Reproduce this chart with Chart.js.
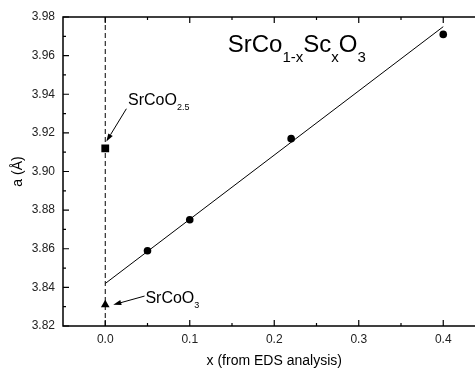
<!DOCTYPE html>
<html>
<head>
<meta charset="utf-8">
<script src="https://cdn.jsdelivr.net/npm/chart.js@4/dist/chart.umd.min.js"></script>
<style>
  html, body { margin: 0; padding: 0; background: #fff; overflow: hidden; }
</style>
</head>
<body>
<canvas id="latticeChart" width="491" height="371"></canvas>
<script>
// measured lattice parameter a vs Sc content x
const scX = [0.05, 0.1, 0.22, 0.4];
const scA = [3.859, 3.875, 3.917, 3.971];
// linear fit
const fitX = [0, 0.4];
const fitA = [3.842, 3.975];
// reference compounds at x = 0
const srCoO25 = [3.912];
const srCoO3 = [3.831];
// axis ticks
const xTicks = [0, 0.1, 0.2, 0.3, 0.4];
const yTicks = [3.82, 3.84, 3.86, 3.88, 3.90, 3.92, 3.94, 3.96, 3.98];

const FONT = '"Liberation Sans", Arial, Helvetica, sans-serif';

// draw a string made of normal + subscript pieces, return end x
function richText(c, parts, x, y) {
    parts.forEach(p => {
        c.font = p.size + 'px ' + FONT;
        c.fillText(p.t, x, y + (p.dy || 0));
        x += c.measureText(p.t).width;
    });
    return x;
}

function arrow(c, x1, y1, x2, y2) {
    const ang = Math.atan2(y2 - y1, x2 - x1);
    const len = 8, w = 2.6;
    c.beginPath();
    c.moveTo(x1, y1);
    c.lineTo(x2 - Math.cos(ang) * len, y2 - Math.sin(ang) * len);
    c.lineWidth = 1;
    c.stroke();
    c.beginPath();
    c.moveTo(x2, y2);
    c.lineTo(x2 - Math.cos(ang) * len - Math.sin(ang) * w, y2 - Math.sin(ang) * len + Math.cos(ang) * w);
    c.lineTo(x2 - Math.cos(ang) * len + Math.sin(ang) * w, y2 - Math.sin(ang) * len - Math.cos(ang) * w);
    c.closePath();
    c.fill();
}

const framePlugin = {
    id: 'frame',
    afterDraw(chart) {
        const c = chart.ctx;
        const a = chart.chartArea;
        const xs = chart.scales.x, ys = chart.scales.y;
        c.save();
        c.strokeStyle = '#000';
        c.fillStyle = '#000';
        c.lineWidth = 1.5;
        c.strokeRect(a.left, a.top, a.right - a.left, a.bottom - a.top);

        // inward ticks, major + minor
        c.lineWidth = 1.2;
        c.beginPath();
        xTicks.forEach(v => {
            const px = xs.getPixelForValue(v);
            c.moveTo(px, a.bottom); c.lineTo(px, a.bottom - 6);
            c.moveTo(px, a.top); c.lineTo(px, a.top + 6);
            const m = xs.getPixelForValue(v + 0.05);
            c.moveTo(m, a.bottom); c.lineTo(m, a.bottom - 3);
            c.moveTo(m, a.top); c.lineTo(m, a.top + 3);
        });
        yTicks.forEach((v, i) => {
            const py = ys.getPixelForValue(v);
            c.moveTo(a.left, py); c.lineTo(a.left + 6, py);
            c.moveTo(a.right, py); c.lineTo(a.right - 6, py);
            if (i < yTicks.length - 1) {
                const m = ys.getPixelForValue(v + 0.01);
                c.moveTo(a.left, m); c.lineTo(a.left + 3, m);
                c.moveTo(a.right, m); c.lineTo(a.right - 3, m);
            }
        });
        c.stroke();

        // annotations
        c.textBaseline = 'alphabetic';
        const X = v => xs.getPixelForValue(v), Y = v => ys.getPixelForValue(v);

        richText(c, [
            {t: 'SrCo', size: 24},
            {t: '1-x', size: 15, dy: 10},
            {t: 'Sc', size: 24},
            {t: 'x', size: 15, dy: 10},
            {t: 'O', size: 24},
            {t: '3', size: 15, dy: 10}
        ], X(0.145), Y(3.962));

        richText(c, [
            {t: 'SrCoO', size: 16},
            {t: '2.5', size: 9, dy: 5}
        ], X(0.027), Y(3.9345));
        arrow(c, X(0.025), Y(3.9325), X(0.0013), Y(3.9155));

        richText(c, [
            {t: 'SrCoO', size: 16},
            {t: '3', size: 9, dy: 5}
        ], X(0.0475), Y(3.8318));
        arrow(c, X(0.0465), Y(3.8355), X(0.0095), Y(3.831));
        c.restore();
    }
};

new Chart(document.getElementById('latticeChart'), {
    type: 'scatter',
    data: {
        datasets: [
            {
                label: 'x = 0',
                data: [{x: 0, y: 3.82}, {x: 0, y: 3.98}],
                showLine: true,
                borderColor: '#000',
                borderWidth: 1,
                borderDash: [5, 3],
                pointRadius: 0
            },
            {
                label: 'fit',
                data: fitX.map((x, i) => ({x, y: fitA[i]})),
                showLine: true,
                borderColor: '#000',
                borderWidth: 1,
                pointRadius: 0
            },
            {
                label: 'SrCo1-xScxO3',
                data: scX.map((x, i) => ({x, y: scA[i]})),
                pointStyle: 'circle',
                pointRadius: 3.8,
                backgroundColor: '#000',
                borderColor: '#000',
                borderWidth: 0
            },
            {
                label: 'SrCoO2.5',
                data: srCoO25.map(y => ({x: 0, y})),
                pointStyle: 'rect',
                pointRadius: 5.5,
                backgroundColor: '#000',
                borderColor: '#000',
                borderWidth: 0
            },
            {
                label: 'SrCoO3',
                data: srCoO3.map(y => ({x: 0, y})),
                pointStyle: 'triangle',
                pointRadius: 5,
                backgroundColor: '#000',
                borderColor: '#000',
                borderWidth: 0
            }
        ]
    },
    options: {
        responsive: false,
        animation: false,
        layout: { padding: { left: 0, top: 17, right: 1, bottom: 0 } },
        plugins: {
            legend: { display: false },
            tooltip: { enabled: false }
        },
        scales: {
            x: {
                type: 'linear',
                min: -0.05,
                max: 0.45,
                afterBuildTicks: s => { s.ticks = xTicks.map(v => ({value: v})); },
                afterFit: s => { s.height = 45; },
                border: { display: false },
                grid: { display: false, drawTicks: false },
                ticks: {
                    padding: 6,
                    color: '#222',
                    font: { family: FONT, size: 12 },
                    callback: v => v.toFixed(1)
                },
                title: {
                    display: true,
                    text: 'x (from EDS analysis)',
                    color: '#000',
                    font: { family: FONT, size: 14 },
                    padding: { top: 0, bottom: 1 }
                }
            },
            y: {
                type: 'linear',
                min: 3.82,
                max: 3.98,
                afterBuildTicks: s => { s.ticks = yTicks.map(v => ({value: v})); },
                afterFit: s => { s.width = 63; },
                border: { display: false },
                grid: { display: false, drawTicks: false },
                ticks: {
                    padding: 8,
                    color: '#222',
                    font: { family: FONT, size: 12 },
                    callback: v => v.toFixed(2)
                },
                title: {
                    display: true,
                    text: 'a (Å)',
                    color: '#000',
                    font: { family: FONT, size: 14 },
                    padding: { top: 10, bottom: 0 }
                }
            }
        }
    },
    plugins: [framePlugin]
});
</script>
</body>
</html>
